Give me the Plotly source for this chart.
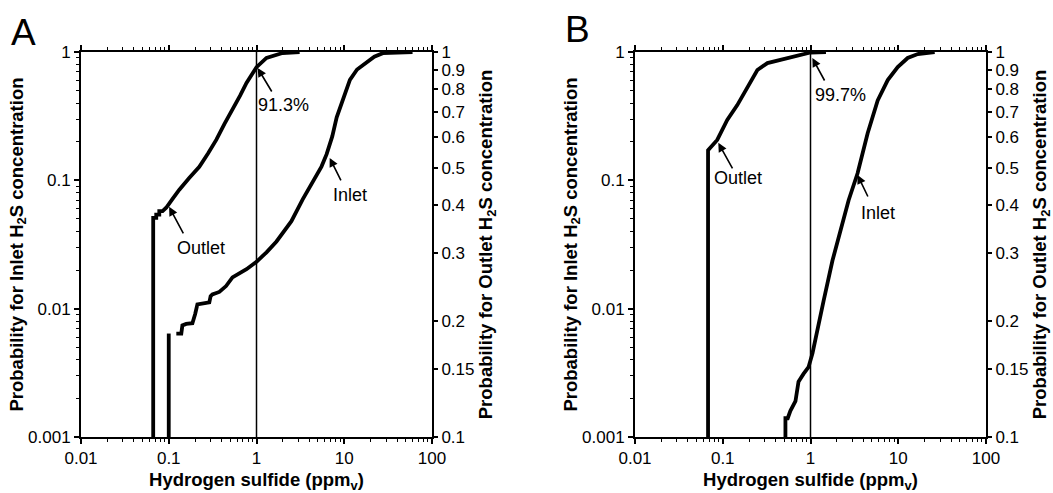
import numpy as np
import plotly.graph_objects as go

# ---------------- data ----------------
# Panel A
a_inlet_x = [0.1, 0.1, None, 0.122, 0.139, 0.143, 0.158, 0.186, 0.19, 0.196, 0.2, 0.212, 0.242, 0.29, 0.30,
             0.314, 0.377, 0.45, 0.532, 0.769, 1.0, 1.30, 1.69, 2.5, 3.36, 4.5, 5.5, 6.3, 7.3, 8.2, 10.0,
             11.6, 14.0, 18.0, 22.0, 27.5, 43.0, 60.0]
a_inlet_p = [0.001, 0.0064, None, 0.0064, 0.0064, 0.0074, 0.0076, 0.0077, 0.0083, 0.0091, 0.0091, 0.0108,
             0.011, 0.0112, 0.0125, 0.0129, 0.0135, 0.015, 0.0175, 0.0203, 0.0232, 0.0275, 0.0334, 0.048,
             0.071, 0.10, 0.128, 0.16, 0.22, 0.31, 0.45, 0.606, 0.73, 0.836, 0.92, 0.98, 1.0, 1.0]
a_outlet_x = [0.0665, 0.0665, 0.072, 0.072, 0.078, 0.078, 0.085, 0.0935, 0.11, 0.132, 0.17, 0.223, 0.28,
              0.349, 0.43, 0.532, 0.65, 0.769, 0.88, 1.0, 1.30, 1.98, 3.1]
a_outlet_p = [0.1, 0.371, 0.371, 0.378, 0.378, 0.386, 0.386, 0.394, 0.415, 0.439, 0.47, 0.503, 0.545,
              0.592, 0.65, 0.708, 0.77, 0.831, 0.875, 0.913, 0.965, 0.994, 1.0]

# Panel B
b_inlet_x = [0.518, 0.518, 0.55, 0.59, 0.674, 0.73, 0.832, 0.949, 1.054, 1.2, 1.41, 1.78, 2.2, 2.72,
             3.44, 4.48, 5.83, 7.59, 9.86, 12.8, 16.7, 21.7, 26.0]
b_inlet_p = [0.001, 0.0014, 0.0014, 0.0016, 0.0019, 0.0027, 0.0031, 0.0035, 0.0045, 0.0071, 0.0115,
             0.0237, 0.0407, 0.07, 0.1135, 0.233, 0.42, 0.604, 0.763, 0.898, 0.965, 0.99, 1.0]
b_outlet_x = [0.068, 0.068, 0.0865, 0.1125, 0.1465, 0.1905, 0.248, 0.323, 0.454, 0.64, 0.83, 1.0, 1.5]
b_outlet_p = [0.1, 0.556, 0.591, 0.666, 0.728, 0.811, 0.898, 0.936, 0.953, 0.971, 0.982, 0.997, 1.0]

# tick labels
x_ticks = [0.01, 0.1, 1, 10, 100]
x_ticktext = ["0.01", "0.1", "1", "10", "100"]
left_ticks = [0.001, 0.01, 0.1, 1]
left_ticktext = ["0.001", "0.01", "0.1", "1"]
right_ticks = [0.1, 0.15, 0.2, 0.3, 0.4, 0.5, 0.6, 0.7, 0.8, 0.9, 1]
right_ticktext = ["0.1", "0.15", "0.2", "0.3", "0.4", "0.5", "0.6", "0.7", "0.8", "0.9", "1"]

# annotations: (panel, label, head_x, head_y(left-axis prob), tail dx, tail dy, text_x, text_y)
notes = [
    ("A", "Outlet", 0.101, 0.0622, 15, 28, 0.235, 0.0298),
    ("A", "91.3%", 1.03, 0.75, 15, 25, 2.04, 0.387),
    ("A", "Inlet", 6.82, 0.1496, 12, 24, 11.6, 0.077),
    ("B", "Outlet", 0.089, 0.196, 15, 27, 0.150, 0.105),
    ("B", "99.7%", 1.05, 0.898, 13, 24, 2.2, 0.463),
    ("B", "Inlet", 3.44, 0.11, 11, 23, 5.83, 0.0558),
]

# ---------------- figure ----------------
W, H = 1053, 493
FONT = "Liberation Sans, Arial, sans-serif"
top_px, bot_px = 52, 437
ydom = [(H - bot_px) / H, (H - top_px) / H]
xdomA = [81 / W, 432 / W]
xdomB = [635 / W, 986 / W]

minor_x = [m * 10.0 ** k for k in range(-2, 2) for m in range(2, 10)]
minor_y = [m * 10.0 ** k for k in range(-3, 0) for m in range(2, 10)]

fig = go.Figure()
line_style = dict(color="black", width=3.8)
fig.add_trace(go.Scatter(x=a_inlet_x, y=a_inlet_p, mode="lines", line=line_style,
                         xaxis="x", yaxis="y", connectgaps=False, name="Inlet A"))
fig.add_trace(go.Scatter(x=a_outlet_x, y=a_outlet_p, mode="lines", line=line_style,
                         xaxis="x", yaxis="y2", name="Outlet A"))
fig.add_trace(go.Scatter(x=b_inlet_x, y=b_inlet_p, mode="lines", line=line_style,
                         xaxis="x2", yaxis="y3", name="Inlet B"))
fig.add_trace(go.Scatter(x=b_outlet_x, y=b_outlet_p, mode="lines", line=line_style,
                         xaxis="x2", yaxis="y4", name="Outlet B"))

tickfont = dict(family=FONT, size=17, color="black")
titlefont = dict(family=FONT, size=18.5, color="black")


def xaxis_cfg(domain, anchor):
    return dict(domain=domain, anchor=anchor, type="log", range=[-2, 2], automargin=False,
                tickvals=x_ticks, ticktext=x_ticktext, tickfont=tickfont,
                ticks="outside", ticklen=5, tickwidth=1.5, tickcolor="black",
                minor=dict(tickvals=minor_x, ticks="outside", ticklen=3, tickwidth=1, tickcolor="black"),
                showline=True, linecolor="black", linewidth=2, mirror="ticks",
                showgrid=False, zeroline=False,
                title=dict(text="<b>Hydrogen sulfide (ppm<sub>v</sub>)</b>", font=titlefont, standoff=9))


def yleft_cfg(anchor):
    return dict(domain=ydom, anchor=anchor, type="log", range=[-3, 0], automargin=False,
                tickvals=left_ticks, ticktext=left_ticktext, tickfont=tickfont,
                ticks="outside", ticklen=5, tickwidth=1.5, tickcolor="black",
                minor=dict(tickvals=minor_y, ticks="outside", ticklen=3, tickwidth=1, tickcolor="black"),
                showline=True, linecolor="black", linewidth=2, showgrid=False, zeroline=False,
                title=dict(text="<b>Probability for Inlet H<sub>2</sub>S concentration</b>",
                           font=titlefont, standoff=0))


def yright_cfg(anchor, overlay):
    return dict(overlaying=overlay, anchor=anchor, side="right", type="log", range=[-1, 0],
                automargin=False,
                tickvals=right_ticks, ticktext=right_ticktext, tickfont=tickfont,
                ticks="outside", ticklen=4, tickwidth=1.5, tickcolor="black",
                showline=True, linecolor="black", linewidth=2, showgrid=False, zeroline=False,
                title=dict(text="<b>Probability for Outlet H<sub>2</sub>S concentration</b>",
                           font=titlefont, standoff=6))


fig.update_layout(
    width=W, height=H, margin=dict(l=0, r=0, t=0, b=0, autoexpand=False),
    paper_bgcolor="white", plot_bgcolor="white", showlegend=False,
    font=dict(family=FONT, color="black"),
    xaxis=xaxis_cfg(xdomA, "y"),
    yaxis=yleft_cfg("x"),
    yaxis2=yright_cfg("x", "y"),
    xaxis2=xaxis_cfg(xdomB, "y3"),
    yaxis3=yleft_cfg("x2"),
    yaxis4=yright_cfg("x2", "y3"),
)

# reference line at 1 ppm
for xr, yr in (("x", "y domain"), ("x2", "y3 domain")):
    fig.add_shape(type="line", xref=xr, yref=yr, x0=1, x1=1, y0=0, y1=1,
                  line=dict(color="black", width=1.5))

anns = []
for panel, label, hx, hy, dx, dy, tx, ty in notes:
    xr, yr = ("x", "y") if panel == "A" else ("x2", "y3")
    anns.append(dict(x=np.log10(hx), y=np.log10(hy), xref=xr, yref=yr, text="",
                     showarrow=True, ax=dx, ay=dy, arrowhead=2, arrowsize=1.1, arrowwidth=1.6,
                     arrowcolor="black"))
    anns.append(dict(x=np.log10(tx), y=np.log10(ty), xref=xr, yref=yr, text=label,
                     xanchor="center", yanchor="middle",
                     showarrow=False, font=dict(family=FONT, size=18, color="black")))
anns.append(dict(x=23 / W, y=1 - 32 / H, xref="paper", yref="paper", text="A", showarrow=False,
                 xanchor="center", yanchor="middle",
                 font=dict(family=FONT, size=37, color="black")))
anns.append(dict(x=577 / W, y=1 - 29 / H, xref="paper", yref="paper", text="B", showarrow=False,
                 xanchor="center", yanchor="middle",
                 font=dict(family=FONT, size=37, color="black")))
fig.update_layout(annotations=anns)

fig.write_html("out.html", config={"responsive": False, "displayModeBar": False},
               post_script="document.body.style.margin='0';document.body.style.overflow='hidden';")
